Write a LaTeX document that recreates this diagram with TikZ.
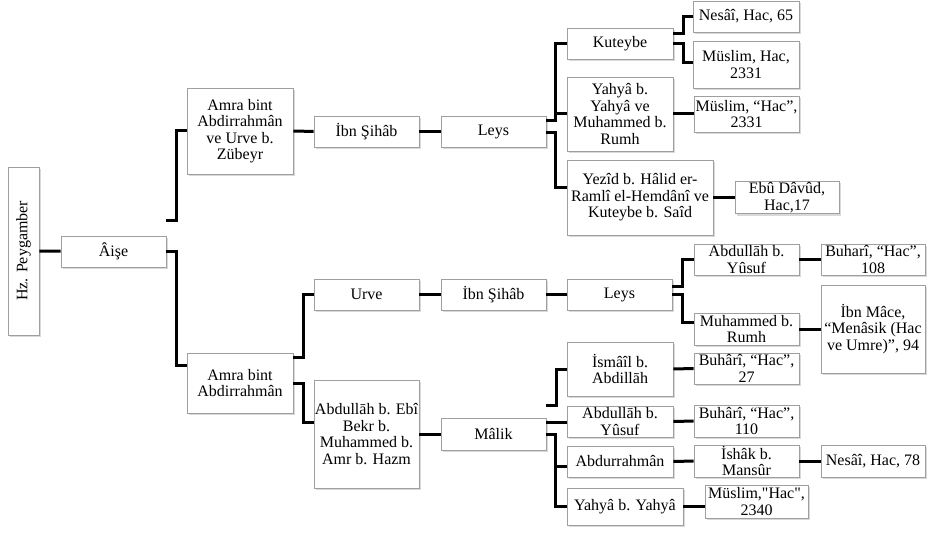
\documentclass[tikz,border=0pt]{standalone}
\usepackage{fontspec}
\setmainfont{Liberation Serif}[Ligatures=TeXOff]
\usetikzlibrary{calc,shadows}
\tikzstyle{every node}=[font=\fontsize{16}{16.5}\selectfont]
\tikzstyle{isnad}=[draw=gray!75, fill=white, line width=0.7pt, align=center, inner sep=1pt, minimum width=105pt, minimum height=31pt, drop shadow={shadow xshift=2pt, shadow yshift=-2pt, opacity=0.3}]
\tikzstyle{connect}=[line width=3pt]
\begin{document}
\begin{tikzpicture}[x=1pt,y=-1pt]
	\useasboundingbox (0,0) rectangle (928,534);
	% root
	\node[isnad, rotate=90, minimum width=168pt] (peyg) at (23.5,251) {Hz. Peygamber};
	\node[isnad] (aise) at (113.5,251.5) {Âişe};
	% upper chain
	\node[isnad, minimum width=106pt, minimum height=86pt] (amraurve) at (240,131) {Amra bint\\Abdirrahmân\\ve Urve b.\\Zübeyr};
	\node[isnad] (sihabA) at (366.5,131.5) {İbn Şihâb};
	\node[isnad] (leysA) at (493.5,131.5) {Leys};
	\node[isnad, minimum width=106pt] (kuteybe) at (620,43.5) {Kuteybe};
	\node[isnad, minimum width=106pt, minimum height=74pt] (yahyaA) at (620,114) {Yahyâ b.\\Yahyâ ve\\Muhammed b.\\Rumh};
	\node[isnad, minimum width=146pt, minimum height=75pt] (yezid) at (640,197.5) {Yezîd b. Hâlid er-\\Ramlî el-Hemdânî ve\\Kuteybe b. Saîd};
	\node[isnad, minimum width=106pt] (nesaiA) at (746,16.5) {Nesâî, Hac, 65};
	\node[isnad, minimum width=106pt, minimum height=47pt] (muslimA) at (746,64.5) {Müslim, Hac,\\2331};
	\node[isnad, minimum height=36pt] (muslimB) at (746.5,114) {Müslim, “Hac”,\\2331};
	\node[isnad, minimum width=104pt] (ebudavud) at (787,197.5) {Ebû Dâvûd,\\Hac,17};
	% lower chain
	\node[isnad, minimum width=106pt, minimum height=60pt] (amra) at (240,383) {Amra bint\\Abdirrahmân};
	\node[isnad] (urve) at (366.5,294.5) {Urve};
	\node[isnad] (sihabB) at (493.5,294.5) {İbn Şihâb};
	\node[isnad] (leysB) at (619.5,294.5) {Leys};
	\node[isnad] (yusufA) at (746.5,259.5) {Abdullāh b.\\Yûsuf};
	\node[isnad, minimum height=32pt] (rumh) at (746.5,329) {Muhammed b.\\Rumh};
	\node[isnad, minimum width=104pt] (buhariA) at (873,259.5) {Buharî, “Hac”,\\108};
	\node[isnad, minimum width=104pt, minimum height=88pt] (ibnmace) at (873,329) {İbn Mâce,\\“Menâsik (Hac\\ve Umre)”, 94};
	\node[isnad, minimum height=108pt] (bekr) at (366.5,434) {Abdullāh b. Ebî\\Bekr b.\\Muhammed b.\\Amr b. Hazm};
	\node[isnad, minimum height=32pt] (malik) at (493.5,434) {Mâlik};
	\node[isnad, minimum width=106pt, minimum height=54pt] (ismail) at (620,369) {İsmâîl b.\\Abdillāh};
	\node[isnad, minimum width=106pt] (yusufB) at (620,421.5) {Abdullāh b.\\Yûsuf};
	\node[isnad, minimum width=106pt] (abdurrahman) at (620,461.5) {Abdurrahmân};
	\node[isnad, minimum width=116pt, minimum height=37pt] (yahyaB) at (625,506.5) {Yahyâ b. Yahyâ};
	\node[isnad] (buhariB) at (746.5,368.5) {Buhârî, “Hac”,\\27};
	\node[isnad, minimum height=32pt] (buhariC) at (746.5,421) {Buhârî, “Hac”,\\110};
	\node[isnad, minimum height=32pt] (ishak) at (746.5,461) {İshâk b.\\Mansûr};
	\node[isnad, minimum width=104pt, minimum height=32pt] (nesaiB) at (873,461) {Nesâî, Hac, 78};
	\node[isnad, minimum width=103pt, minimum height=33pt] (muslimC) at (756.5,501.5) {Müslim,"Hac",\\2340};
	% connectors
	\draw[connect] (peyg) -- (aise);
	\draw[connect] ([yshift=31pt]aise.east) -- ++(10,0) |- (amraurve);
	\draw[connect] (aise.east) -- ++(10,0) |- ([yshift=18pt]amra.west);
	\draw[connect] (amraurve) -- (sihabA);
	\draw[connect] (sihabA) -- (leysA);
	\draw[connect] ([yshift=11pt]leysA.east) -- ++(9,0) |- (kuteybe);
	\draw[connect] ([yshift=11pt]leysA.east) -- ++(9,0) |- (yahyaA);
	\draw[connect] ([yshift=-1.5pt]leysA.east) -- ++(9,0) |- ([yshift=10pt]yezid.west);
	\draw[connect] ([yshift=10pt]kuteybe.east) -- ++(10,0) |- (nesaiA);
	\draw[connect] (kuteybe.east) -- ++(10,0) |- ([yshift=2pt]muslimA.west);
	\draw[connect] (yahyaA) -- (muslimB);
	\draw[connect] (yezid) -- (ebudavud);
	\draw[connect] ([yshift=26pt]amra.east) -- ++(10,0) |- (urve);
	\draw[connect] (amra.east) -- ++(10,0) |- ([yshift=12pt]bekr.west);
	\draw[connect] (urve) -- (sihabB);
	\draw[connect] (sihabB) -- (leysB);
	\draw[connect] ([yshift=7.5pt]leysB.east) -- ++(10,0) |- (yusufA);
	\draw[connect] (leysB.east) -- ++(10,0) |- ([yshift=7pt]rumh.west);
	\draw[connect] (yusufA) -- (buhariA);
	\draw[connect] (rumh) -- (ibnmace);
	\draw[connect] (bekr) -- (malik);
	\draw[connect] ([yshift=29pt]malik.east) -- ++(10,0) |- (ismail);
	\draw[connect] ([yshift=12pt]malik.east) -- ([yshift=12pt]malik.east -| yusufB.west);
	\draw[connect] (malik.east) -- ++(9,0) |- ([yshift=-5pt]abdurrahman.west);
	\draw[connect] (malik.east) -- ++(9,0) |- (yahyaB);
	\draw[connect] (ismail) -- (buhariB);
	\draw[connect] (yusufB) -- (buhariC);
	\draw[connect] (abdurrahman) -- (ishak);
	\draw[connect] (ishak) -- (nesaiB);
	\draw[connect] (yahyaB.east) -- (yahyaB.east -| muslimC.west);
\end{tikzpicture}
\end{document}
